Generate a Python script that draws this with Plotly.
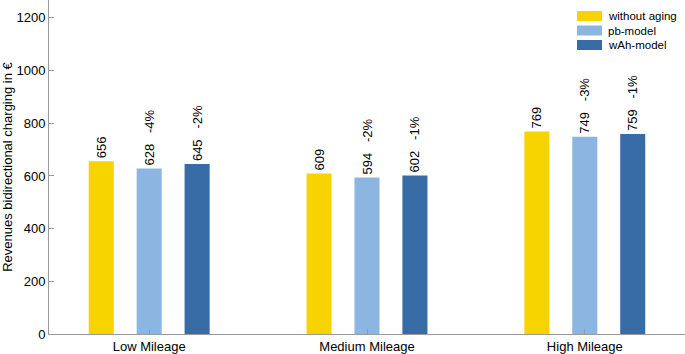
import plotly.graph_objects as go

categories = ["Low Mileage", "Medium Mileage", "High Mileage"]
series_names = ["without aging", "pb-model", "wAh-model"]
without_aging = [656, 609, 769]
pb_model = [628, 594, 749]
wah_model = [645, 602, 759]
pb_change = ["-4%", "-2%", "-3%"]
wah_change = ["-2%", "-1%", "-1%"]
colors = ["#F7D400", "#8DB5E1", "#386CA6"]

fig = go.Figure()
fig.add_trace(go.Bar(x=categories, y=without_aging, name=series_names[0],
                     marker=dict(color=colors[0], line=dict(width=0)),
                     text=[str(v) for v in without_aging]))
fig.add_trace(go.Bar(x=categories, y=pb_model, name=series_names[1],
                     marker=dict(color=colors[1], line=dict(width=0)),
                     text=[f"{v}   {c}" for v, c in zip(pb_model, pb_change)]))
fig.add_trace(go.Bar(x=categories, y=wah_model, name=series_names[2],
                     marker=dict(color=colors[2], line=dict(width=0)),
                     text=[f"{v}   {c}" for v, c in zip(wah_model, wah_change)]))
fig.update_traces(textposition="outside", textangle=-90, cliponaxis=False,
                  constraintext="none",
                  textfont=dict(size=13, color="black", family="Liberation Sans"))

# manual legend with wide rectangular swatches (as in the reference)
legend_x0, legend_w, legend_h = 577, 25, 10
legend_y_top, legend_step = 11, 14.5
for i, (name, col) in enumerate(zip(series_names, colors)):
    y0 = legend_y_top + i * legend_step
    fig.add_shape(type="rect", xref="paper", yref="paper",
                  x0=(legend_x0 - 49) / 636, x1=(legend_x0 + legend_w - 49) / 636,
                  y0=1 - (y0 + legend_h) / 334, y1=1 - y0 / 334,
                  fillcolor=col, line=dict(width=0))
    fig.add_annotation(xref="paper", yref="paper",
                       x=(legend_x0 + legend_w + 4 - 49) / 636,
                       y=1 - (y0 + legend_h / 2) / 334,
                       text=name, showarrow=False, xanchor="left", yanchor="middle",
                       font=dict(size=11.5, color="black"))

fig.update_layout(
    width=685, height=354,
    margin=dict(l=49, r=0, t=0, b=20),
    barmode="group", bargap=0.34, bargroupgap=0.477,
    plot_bgcolor="white", paper_bgcolor="white",
    font=dict(family="Liberation Sans", size=12, color="black"),
    showlegend=False,
)
fig.update_xaxes(range=[-0.46, 2.46], showline=True, linecolor="#999999", linewidth=1,
                 ticks="inside", ticklen=5, tickcolor="#999999", showgrid=False,
                 tickfont=dict(size=13))
fig.update_yaxes(range=[0, 1268], showline=True, linecolor="#999999", linewidth=1,
                 ticks="inside", ticklen=5, tickcolor="#999999", showgrid=False,
                 zeroline=False, tickvals=[0, 200, 400, 600, 800, 1000, 1200],
                 tickfont=dict(size=13),
                 title=dict(text="Revenues bidirectional charging in €", font=dict(size=13), standoff=5))

fig.write_html("out.html", config={"displayModeBar": False},
               post_script="document.body.style.margin='0';")
